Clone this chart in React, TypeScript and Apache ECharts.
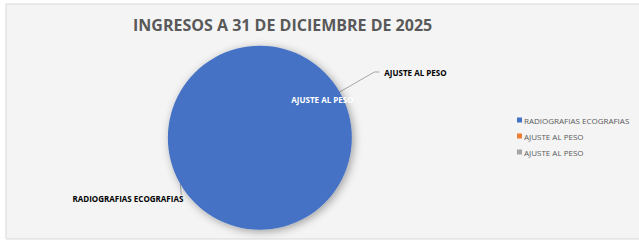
import React, { useEffect, useRef } from "react";
import * as echarts from "echarts";

const titleText = "INGRESOS A 31 DE DICIEMBRE DE 2025";
const sliceNames = ["RADIOGRAFIAS ECOGRAFIAS", "AJUSTE AL PESO", "AJUSTE AL PESO (2)"];
const sliceValues = [100, 0, 0];
const sliceColors = ["#4472c4", "#ed7d31", "#a5a5a5"];

const FONT = "'Open Sans', sans-serif";
const RADIUS = 92;

export default function App() {
  const ref = useRef<HTMLDivElement>(null);
  useEffect(() => {
    if (!ref.current) return;
    const chart = echarts.init(ref.current, undefined, { renderer: "svg" });
    const data = sliceNames.map((n, i) => {
      const item: any = { name: n, value: sliceValues[i], itemStyle: { color: sliceColors[i] } };
      if (i === 0) {
        item.label = { show: true, position: "outside", color: "#000", fontWeight: "bold" };
        item.labelLine = { show: true, length: 10, length2: 2 };
      } else if (i === 1) {
        item.label = { show: true, position: "outside", color: "#000", fontWeight: "bold" };
        item.labelLine = { show: true, length: 40, length2: 5 };
      } else {
        item.label = { show: true, position: "inside", color: "#fff", fontWeight: "bold", offset: [20, -14] };
        item.labelLine = { show: false };
      }
      return item;
    });
    chart.setOption({
      animation: false,
      backgroundColor: "#ffffff",
      graphic: [
        {
          type: "rect",
          shape: { x: 6, y: 4, width: 640, height: 235 },
          style: { fill: "#f4f4f4", stroke: "#d9d9d9", lineWidth: 1 },
          z: -10,
        },
      ],
      title: {
        text: titleText,
        left: 128,
        top: 12,
        textStyle: { fontFamily: FONT, fontSize: 16, fontWeight: "bold", color: "#595959" },
      },
      legend: {
        orient: "vertical",
        left: 512,
        top: 111,
        itemWidth: 5,
        itemHeight: 5,
        itemGap: 8,
        icon: "rect",
        data: sliceNames,
        formatter: (n: string) => n.replace(" (2)", ""),
        textStyle: { fontFamily: FONT, fontSize: 8, color: "#595959", padding: [0, 0, 0, -3] },
      },
      series: [
        {
          type: "pie",
          center: [260, 138],
          radius: RADIUS,
          startAngle: 30,
          clockwise: true,
          avoidLabelOverlap: false,
          stillShowZeroSum: true,
          itemStyle: {
            shadowBlur: 8,
            shadowColor: "rgba(0,0,0,0.35)",
            shadowOffsetX: 2,
            shadowOffsetY: 2,
          },
          label: {
            fontFamily: FONT,
            fontSize: 8,
            formatter: (p: any) => p.name.replace(" (2)", ""),
          },
          labelLine: { lineStyle: { color: "#a6a6a6", width: 1 } },
          labelLayout: (params: any) => {
            const pts = params.labelLinePoints;
            if (!pts) return {};
            const p0 = pts[0];
            if (params.dataIndex === 1) {
              const p1 = pts[1];
              const dx = p1[0] - p0[0];
              const dy = p1[1] - p0[1];
              const len = Math.sqrt(dx * dx + dy * dy) || 1;
              const c = [p0[0] - (RADIUS * dx) / len, p0[1] - (RADIUS * dy) / len];
              return { labelLinePoints: [c, p1, pts[2]] };
            }
            if (params.dataIndex === 0) {
              const end = [p0[0] + 1, p0[1] + 11];
              return {
                x: p0[0] + 3,
                y: p0[1] + 14,
                align: "right",
                verticalAlign: "middle",
                labelLinePoints: [p0, end, end],
              };
            }
            return {};
          },
          data,
        },
      ],
    });
    return () => chart.dispose();
  }, []);
  return <div ref={ref} style={{ position: "fixed", left: 0, top: 0, width: 639, height: 243 }} />;
}
